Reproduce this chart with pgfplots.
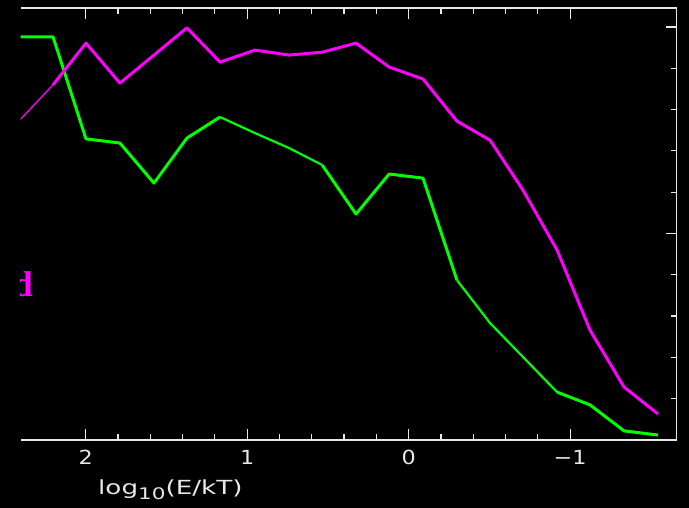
\documentclass[border=0pt]{standalone}
\usepackage{fontspec}
\setmainfont{DejaVu Sans}
\newfontfamily\serifbold{Liberation Serif}
\usepackage{pgfplots}
\pgfplotsset{compat=1.18}
\definecolor{fgw}{HTML}{E8E8E8}
\definecolor{mag}{HTML}{FF00FF}
\definecolor{grn}{HTML}{00FF00}
\begin{document}
\begin{tikzpicture}
\useasboundingbox (0,0) rectangle (689bp,508bp);
\fill[black] (0,0) rectangle (689bp,508bp);
\begin{axis}[
  at={(20.6bp,68bp)}, anchor=south west,
  scale only axis, width=656bp, height=432bp,
  x dir=reverse,
  xmin=-1.659, xmax=2.403,
  ymin=0, ymax=10.46,
  axis x line*=box, axis y line*=right,
  axis line style={fgw, line width=1.3pt},
  tick align=inside,
  every tick/.style={fgw, line width=1.2pt},
  major tick length=11bp, minor tick length=6bp,
  xtick={-1,0,1,2}, xticklabels={−1,0,1,2},
  minor x tick num=4,
  ytick={0,5,10}, minor y tick num=4,
  yticklabels={},
  xticklabel style={fgw, font=\fontsize{19.5}{19.5}\selectfont, yshift=-7bp, xscale=1.15},
  clip=true,
]
\addplot[grn, line width=3pt, line join=round] coordinates {
(2.407,9.76) (2.202,9.76) (1.998,7.29) (1.788,7.19) (1.577,6.22) (1.373,7.31)
(1.168,7.82)
};
\addplot[grn, line width=2.2pt, line join=round] coordinates {
(1.168,7.82) (0.951,7.43) (0.741,7.07) (0.536,6.66)
};
\addplot[grn, line width=3pt, line join=round] coordinates {
(0.536,6.66) (0.326,5.47) (0.121,6.44)
(-0.089,6.34) (-0.299,3.87)
};
\addplot[grn, line width=2.2pt, line join=round] coordinates {
(-0.299,3.87) (-0.504,2.83) (-0.708,2.01) (-0.919,1.16)
};
\addplot[grn, line width=3pt, line join=round] coordinates {
(-0.919,1.16) (-1.123,0.85) (-1.334,0.22) (-1.544,0.12)
};
\addplot[mag, line width=1.3pt] coordinates {
(2.407,7.75) (2.202,8.60)
};
\addplot[mag, line width=3pt, line join=round] coordinates {
(2.202,8.60) (1.998,9.61) (1.788,8.64) (1.577,9.32) (1.373,9.98)
(1.168,9.15) (0.951,9.44) (0.741,9.32) (0.536,9.39) (0.326,9.61) (0.121,9.03)
(-0.089,8.74) (-0.299,7.72) (-0.504,7.26) (-0.708,6.05) (-0.919,4.60)
(-1.123,2.66) (-1.334,1.28) (-1.544,0.63)
};
\end{axis}
\begin{scope}
\clip (20.6bp,0) rectangle (60bp,508bp);
\node[mag, anchor=base east, inner sep=0pt, font=\serifbold\bfseries\fontsize{36}{36}\selectfont] at (33bp,211bp) {d};
\end{scope}
\node[fgw, anchor=base west, inner sep=0pt, font=\fontsize{19.5}{19.5}\selectfont] at (98bp,14bp) {\scalebox{1.35}[1]{log\raisebox{-0.55ex}{\fontsize{16}{16}\selectfont 10}(E/kT)}};
\end{tikzpicture}
\end{document}
